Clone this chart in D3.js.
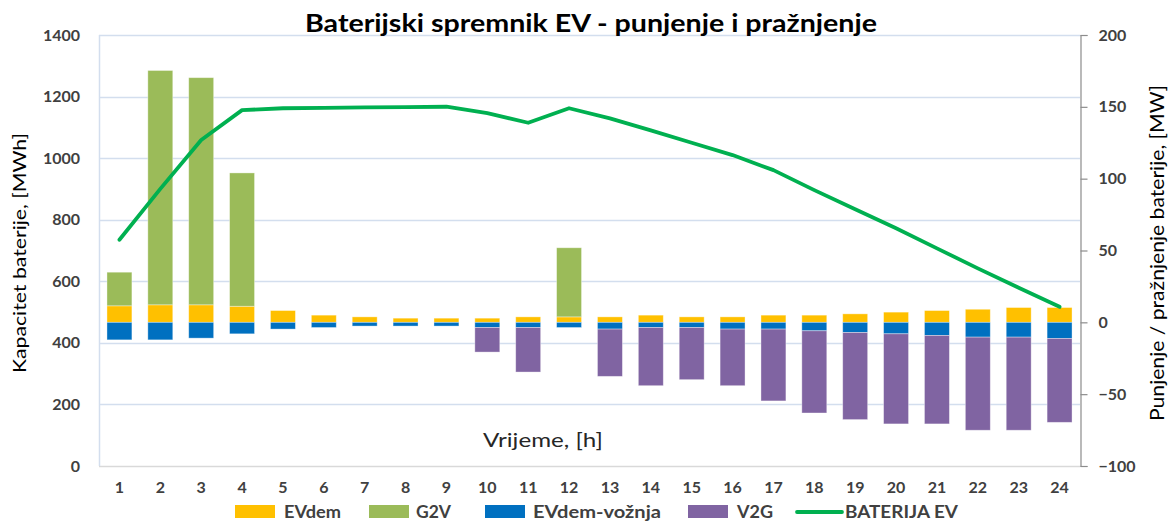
<!DOCTYPE html>
<html>
<head>
<meta charset="utf-8">
<script src="https://cdn.jsdelivr.net/npm/d3@7"></script>
<style>
  body { margin: 0; background: #fff; }
  svg text { font-family: Lato, "Open Sans", sans-serif; }
</style>
</head>
<body>
<div id="chart"></div>
<script>
// hours on x axis
const hours = d3.range(1, 25);

// MW values
const evdem = [11.5, 12.2, 12.2, 11.2, 8.2, 5.0, 3.8, 2.9, 2.9, 2.9, 3.8, 3.8, 3.8, 5.0, 3.8, 3.8, 5.0, 5.0, 5.9, 7.1, 8.2, 9.1, 10.3, 10.3];
const g2v = [23.4, 163.1, 158.1, 92.8, 0, 0, 0, 0, 0, 0, 0, 48.1, 0, 0, 0, 0, 0, 0, 0, 0, 0, 0, 0, 0];
const evdemVoznja = [-12.2, -12.2, -11.0, -8.0, -4.7, -3.6, -2.6, -2.6, -2.6, -3.6, -3.6, -3.6, -4.7, -3.6, -3.6, -4.7, -4.7, -5.9, -7.1, -8.0, -9.1, -10.3, -10.3, -11.2];
const v2g = [0, 0, 0, 0, 0, 0, 0, 0, 0, -17.1, -31.0, 0, -32.9, -40.5, -36.3, -39.4, -50.0, -57.2, -60.6, -62.7, -61.6, -64.8, -64.8, -58.4];

// MWh, left axis
const baterija = [735, 900, 1059, 1156, 1162, 1163, 1165, 1166, 1167, 1146, 1115, 1162, 1129, 1090, 1050, 1010, 961, 896, 834, 772, 707, 642, 579, 517];

const leftTicks = [0, 200, 400, 600, 800, 1000, 1200, 1400];
const rightTicks = [-100, -50, 0, 50, 100, 150, 200];

const seriesKeys = ["EVdem", "G2V", "EVdem-vožnja", "V2G"];
const colors = { "EVdem": "#FFC000", "G2V": "#9BBB59", "EVdem-vožnja": "#0070C0", "V2G": "#8064A2" };
const lineColor = "#00B050";

const width = 1176, height = 522;
const margin = { top: 35, right: 96, bottom: 56, left: 99 };

const svg = d3.select("#chart").append("svg")
  .attr("width", width)
  .attr("height", height);

const x = d3.scaleBand()
  .domain(hours)
  .range([margin.left, width - margin.right])
  .paddingInner(0.39)
  .paddingOuter(0.195);

const yLeft = d3.scaleLinear().domain([0, 1400]).range([height - margin.bottom, margin.top]);
const yRight = d3.scaleLinear().domain([-100, 200]).range([height - margin.bottom, margin.top]);

// gridlines from left axis
svg.append("g")
  .selectAll("line")
  .data(leftTicks)
  .join("line")
  .attr("x1", margin.left)
  .attr("x2", width - margin.right)
  .attr("y1", d => Math.round(yLeft(d)) + 0.5)
  .attr("y2", d => Math.round(yLeft(d)) + 0.5)
  .attr("stroke", d => d === 0 ? "#d9d9d9" : "#d3deee")
  .attr("stroke-width", 1.5);

// left axis line
svg.append("line")
  .attr("x1", margin.left + 0.5).attr("x2", margin.left + 0.5)
  .attr("y1", yLeft(1400)).attr("y2", yLeft(0))
  .attr("stroke", "#d3deee")
  .attr("stroke-width", 1.5);

// stacked bars
const rows = hours.map((h, i) => ({
  hour: h,
  "EVdem": evdem[i],
  "G2V": g2v[i],
  "EVdem-vožnja": evdemVoznja[i],
  "V2G": v2g[i]
}));

const stacked = d3.stack()
  .keys(seriesKeys)
  .offset(d3.stackOffsetDiverging)(rows);

svg.append("g")
  .selectAll("g")
  .data(stacked)
  .join("g")
  .attr("fill", d => colors[d.key])
  .selectAll("rect")
  .data(d => d)
  .join("rect")
  .attr("x", d => x(d.data.hour))
  .attr("width", x.bandwidth())
  .attr("y", d => yRight(d[1]))
  .attr("height", d => Math.abs(yRight(d[0]) - yRight(d[1])))
  .attr("stroke", "rgba(255,255,255,0.45)")
  .attr("stroke-width", 0.8);

// battery line
const line = d3.line()
  .x((d, i) => x(hours[i]) + x.bandwidth() / 2)
  .y(d => yLeft(d));

svg.append("path")
  .datum(baterija)
  .attr("fill", "none")
  .attr("stroke", lineColor)
  .attr("stroke-width", 3.8)
  .attr("stroke-linejoin", "round")
  .attr("stroke-linecap", "round")
  .attr("d", line);

function styleTicks(g) {
  g.selectAll("text")
    .attr("fill", "#404040")
    .attr("font-size", 16)
    .attr("font-weight", "bold")
    .style("font-family", "Lato, sans-serif");
}

// left axis labels
const axisLeft = svg.append("g")
  .attr("transform", `translate(${margin.left},0)`)
  .call(d3.axisLeft(yLeft).tickValues(leftTicks).tickFormat(d3.format("d")).tickSize(0).tickPadding(19));
axisLeft.select(".domain").remove();
styleTicks(axisLeft);

// right axis
const axisRight = svg.append("g")
  .attr("transform", `translate(${width - margin.right + 0.5},0)`)
  .call(d3.axisRight(yRight).tickValues(rightTicks).tickFormat(d3.format("d")).tickSize(7).tickPadding(11));
axisRight.select(".domain").attr("stroke", "#8c8c8c").attr("stroke-width", 1.2);
axisRight.selectAll("line").attr("stroke", "#8c8c8c").attr("stroke-width", 1.2);
styleTicks(axisRight);

// x labels, below the plot
const axisBottom = svg.append("g")
  .attr("transform", `translate(0,${height - margin.bottom})`)
  .call(d3.axisBottom(x).tickSize(0).tickPadding(16));
axisBottom.select(".domain").remove();
styleTicks(axisBottom);

// titles (the original is a bit stretched sideways, so fit lengths)
svg.append("text")
  .attr("x", 591)
  .attr("y", 32)
  .attr("text-anchor", "middle")
  .attr("font-size", 24)
  .attr("font-weight", "bold")
  .attr("fill", "#000")
  .attr("textLength", 572)
  .attr("lengthAdjust", "spacingAndGlyphs")
  .text("Baterijski spremnik EV - punjenje i pražnjenje");

svg.append("text")
  .attr("transform", "translate(26,253) rotate(-90)")
  .attr("text-anchor", "middle")
  .attr("font-size", 18)
  .attr("fill", "#000")
  .attr("textLength", 240)
  .attr("lengthAdjust", "spacingAndGlyphs")
  .text("Kapacitet baterije, [MWh]");

svg.append("text")
  .attr("transform", "translate(1164,253) rotate(-90)")
  .attr("text-anchor", "middle")
  .attr("font-size", 19)
  .attr("fill", "#000")
  .attr("textLength", 336)
  .attr("lengthAdjust", "spacingAndGlyphs")
  .text("Punjenje / pražnjenje baterije, [MW]");

svg.append("text")
  .attr("x", 543)
  .attr("y", 447)
  .attr("text-anchor", "middle")
  .attr("font-size", 19)
  .attr("fill", "#262626")
  .attr("textLength", 120)
  .attr("lengthAdjust", "spacingAndGlyphs")
  .text("Vrijeme, [h]");

// legend
const legendItems = [
  { name: "EVdem", type: "rect", x: 235, tx: 284, tw: 57 },
  { name: "G2V", type: "rect", x: 369, tx: 416, tw: 35 },
  { name: "EVdem-vožnja", type: "rect", x: 485, tx: 533, tw: 128 },
  { name: "V2G", type: "rect", x: 688, tx: 737, tw: 36 },
  { name: "BATERIJA EV", type: "line", x: 797, tx: 845, tw: 113 }
];

const legend = svg.append("g");
legendItems.forEach(item => {
  if (item.type === "rect") {
    legend.append("rect")
      .attr("x", item.x).attr("y", 505)
      .attr("width", 40).attr("height", 13)
      .attr("fill", colors[item.name]);
  } else {
    legend.append("line")
      .attr("x1", item.x).attr("x2", item.x + 45)
      .attr("y1", 512).attr("y2", 512)
      .attr("stroke", lineColor)
      .attr("stroke-width", 3.8)
      .attr("stroke-linecap", "round");
  }
  legend.append("text")
    .attr("x", item.tx).attr("y", 518)
    .attr("font-size", 16.5)
    .attr("font-weight", "bold")
    .attr("fill", "#404040")
    .attr("textLength", item.tw)
    .attr("lengthAdjust", "spacingAndGlyphs")
    .text(item.name);
});
</script>
</body>
</html>
